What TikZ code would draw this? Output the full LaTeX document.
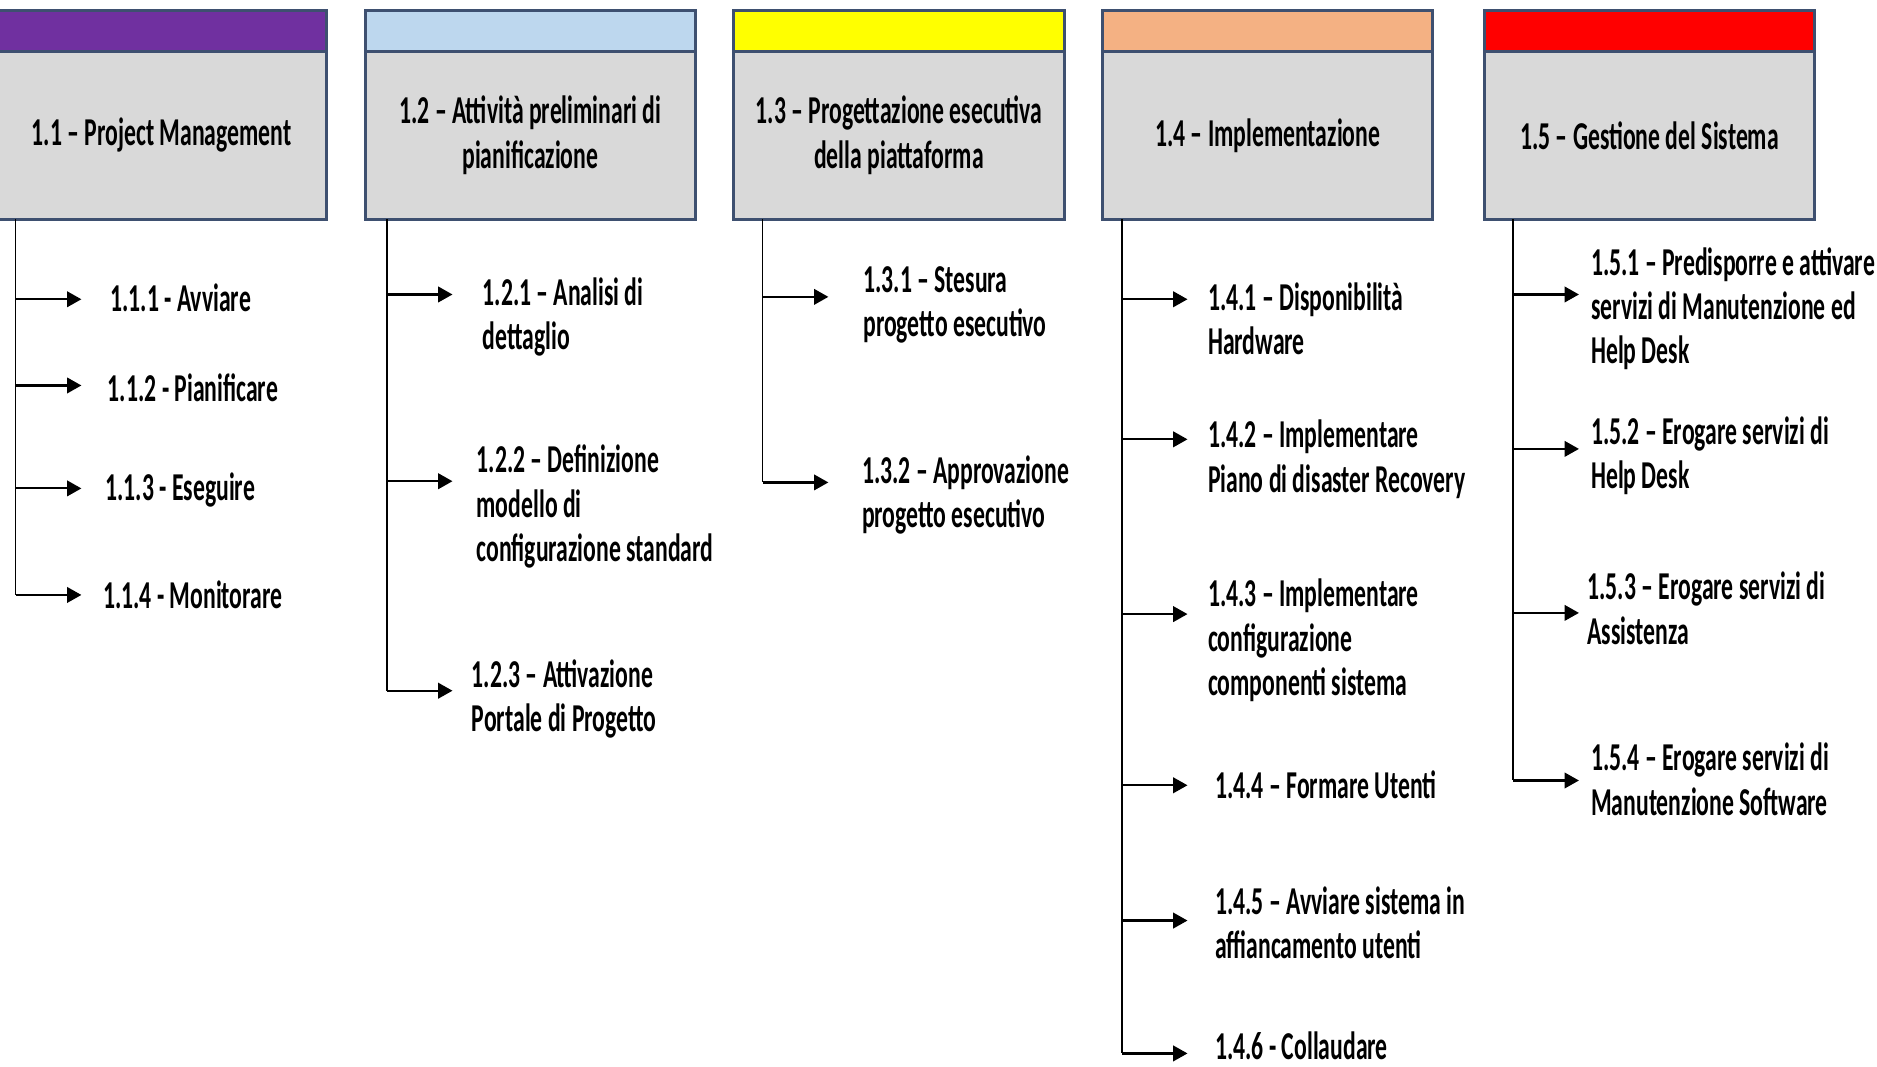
\documentclass[tikz,border=0pt]{standalone}
\usepackage{fontspec}
\newfontfamily\wbsfont{Carlito}[FakeStretch=0.6]
\usepackage{tikz}
\usetikzlibrary{arrows.meta, positioning}

\definecolor{pmpurple}{RGB}{112,48,160}
\definecolor{aplightblue}{RGB}{189,215,238}
\definecolor{peyellow}{RGB}{255,255,0}
\definecolor{imorange}{RGB}{244,177,131}
\definecolor{gsred}{RGB}{255,0,0}
\definecolor{boxgray}{RGB}{217,217,217}
\definecolor{boxborder}{RGB}{62,80,112}

\begin{document}
\begin{tikzpicture}[x=1pt,y=1pt,>={Triangle[length=12pt,width=13pt]},
	font=\wbsfont\bfseries\fontsize{33}{37}\selectfont]

		\tikzstyle{phase}=[rectangle,draw=boxborder,line width=2.5pt,fill=boxgray,
			minimum width=276pt,minimum height=140pt,inner sep=0pt,outer sep=0pt,align=center]
		\tikzstyle{band}=[rectangle,draw=boxborder,line width=2.5pt,
			minimum width=276pt,minimum height=34pt,inner sep=0pt,outer sep=0pt]
		\tikzstyle{task}=[anchor=base west,inner sep=0pt,align=left]
		\tikzstyle{post}=[->,line width=1.8pt]
		\tikzstyle{spine}=[line width=1.5pt]

		\useasboundingbox (0,0) rectangle (1568,-891);

		% phase boxes
		\node [phase] (PM) at (135,-113) {1.1 – Project Management};
		\node [phase, right=32pt of PM] (AP) {1.2 – Attività preliminari di\\pianificazione};
		\node [phase, right=32pt of AP] (PE) {1.3 – Progettazione esecutiva\\della piattaforma};
		\node [phase, right=32pt of PE] (IM) {1.4 – Implementazione};
		\node [phase, right=43pt of IM] (GS) {1.5 – Gestione del Sistema};
		\node [band, fill=pmpurple, above=0pt of PM] (PMbar) {};
		\node [band, fill=aplightblue, above=0pt of AP] (APbar) {};
		\node [band, fill=peyellow, above=0pt of PE] (PEbar) {};
		\node [band, fill=imorange, above=0pt of IM] (IMbar) {};
		\node [band, fill=gsred, above=0pt of GS] (GSbar) {};

		% tasks (base = last line)
		\node [task] (t111) at (92,-260) {1.1.1 - Avviare};
		\node [task] (t112) at (90,-335) {1.1.2 - Pianificare};
		\node [task] (t113) at (88,-418) {1.1.3 - Eseguire};
		\node [task] (t114) at (86,-508) {1.1.4 - Monitorare};

		\node [task] (t121) at (403,-292) {1.2.1 – Analisi di\\dettaglio};
		\node [task] (t122) at (398,-469) {1.2.2 – Definizione\\modello di\\configurazione standard};
		\node [task] (t123) at (394,-611) {1.2.3 – Attivazione\\Portale di Progetto};

		\node [task] (t131) at (721,-281) {1.3.1 – Stesura\\progetto esecutivo};
		\node [task] (t132) at (720,-441) {1.3.2 – Approvazione\\progetto esecutivo};

		\node [task] (t141) at (1009,-296) {1.4.1 – Disponibilità\\Hardware};
		\node [task] (t142) at (1009,-411) {1.4.2 – Implementare\\Piano di disaster Recovery};
		\node [task] (t143) at (1009,-581) {1.4.3 – Implementare\\configurazione\\componenti sistema};
		\node [task] (t144) at (1015,-667) {1.4.4 – Formare Utenti};
		\node [task] (t145) at (1015,-801) {1.4.5 – Avviare sistema in\\affiancamento utenti};
		\node [task] (t146) at (1015,-885) {1.4.6 - Collaudare};

		\node [task] (t151) at (1329,-304) {1.5.1 – Predisporre e attivare\\servizi di Manutenzione ed\\Help Desk};
		\node [task] (t152) at (1329,-408) {1.5.2 – Erogare servizi di\\Help Desk};
		\node [task] (t153) at (1326,-538) {1.5.3 – Erogare servizi di\\Assistenza};
		\node [task] (t154) at (1329,-681) {1.5.4 – Erogare servizi di\\Manutenzione Software};

		% arrow tips
		\coordinate (a111) at (68,-250);
		\coordinate (a112) at (68,-322);
		\coordinate (a113) at (68,-408);
		\coordinate (a114) at (68,-497);
		\coordinate (a121) at (378,-246);
		\coordinate (a122) at (378,-402);
		\coordinate (a123) at (378,-577);
		\coordinate (a131) at (692,-248);
		\coordinate (a132) at (692,-403);
		\coordinate (a141) at (992,-250);
		\coordinate (a142) at (992,-367);
		\coordinate (a143) at (992,-513);
		\coordinate (a144) at (992,-656);
		\coordinate (a145) at (992,-769);
		\coordinate (a146) at (992,-880);
		\coordinate (a151) at (1319,-246);
		\coordinate (a152) at (1319,-375);
		\coordinate (a153) at (1319,-512);
		\coordinate (a154) at (1319,-652);

		% spines
		\coordinate (PMs) at (PM.south -| 13,0);
		\coordinate (APs) at (AP.south -| 323,0);
		\coordinate (PEs) at (PE.south -| 637,0);
		\coordinate (IMs) at (IM.south -| 937,0);
		\coordinate (GSs) at (GS.south -| 1264,0);
		\draw [spine] (PMs) -- (PMs |- a114);
		\draw [spine] (APs) -- (APs |- a123);
		\draw [spine] (PEs) -- (PEs |- a132);
		\draw [spine] (IMs) -- (IMs |- a146);
		\draw [spine] (GSs) -- (GSs |- a154);

		\draw [post] (PMs |- a111) -- (a111);
		\draw [post] (PMs |- a112) -- (a112);
		\draw [post] (PMs |- a113) -- (a113);
		\draw [post] (PMs |- a114) -- (a114);
		\draw [post] (APs |- a121) -- (a121);
		\draw [post] (APs |- a122) -- (a122);
		\draw [post] (APs |- a123) -- (a123);
		\draw [post] (PEs |- a131) -- (a131);
		\draw [post] (PEs |- a132) -- (a132);
		\draw [post] (IMs |- a141) -- (a141);
		\draw [post] (IMs |- a142) -- (a142);
		\draw [post] (IMs |- a143) -- (a143);
		\draw [post] (IMs |- a144) -- (a144);
		\draw [post] (IMs |- a145) -- (a145);
		\draw [post] (IMs |- a146) -- (a146);
		\draw [post] (GSs |- a151) -- (a151);
		\draw [post] (GSs |- a152) -- (a152);
		\draw [post] (GSs |- a153) -- (a153);
		\draw [post] (GSs |- a154) -- (a154);
	\end{tikzpicture}
\end{document}
